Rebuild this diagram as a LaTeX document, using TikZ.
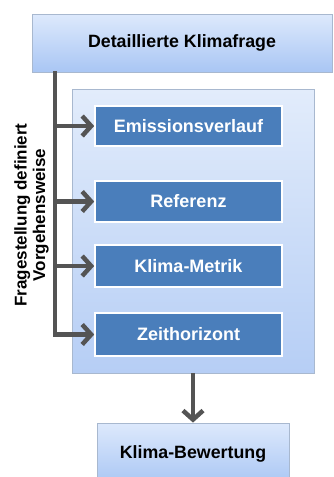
\documentclass[tikz,border=0pt]{standalone}
\usepackage{fontspec}
\setmainfont{Liberation Sans}
\usetikzlibrary{arrows.meta}
\definecolor{topA}{HTML}{DDE9FC}
\definecolor{topB}{HTML}{A9C6F4}
\definecolor{contA}{HTML}{E2ECFB}
\definecolor{contB}{HTML}{B6CEF5}
\definecolor{boxblue}{HTML}{4A7EBB}
\definecolor{edgegray}{HTML}{A8B8CF}
\definecolor{arrowgray}{HTML}{545454}
\tikzset{
  lightbox/.style={draw=edgegray, line width=0.8pt, top color=topA, bottom color=topB,
    font=\bfseries\fontsize{17.8}{21}\selectfont, text=black, inner sep=0pt},
  contbox/.style={draw=edgegray, line width=0.8pt, top color=contA, bottom color=contB, inner sep=0pt},
  stepbox/.style={draw=white, line width=1.6pt, fill=boxblue, text=white,
    font=\bfseries\fontsize{18}{21}\selectfont, minimum width=187pt, inner sep=0pt},
  conn/.style={draw=arrowgray, line width=4.5pt},
  tip/.style={-{Straight Barb[length=9pt,width=20pt,line width=4.5pt]}}
}
\begin{document}
\begin{tikzpicture}[x=1pt,y=-1pt]
\useasboundingbox (0,0) rectangle (333,477);
\node[lightbox, minimum width=300pt, minimum height=58pt] (top) at (182,43) {Detaillierte Klimafrage};
\node[contbox, minimum width=242pt, minimum height=284pt] (cont) at (193,231) {};
\node[stepbox, minimum height=40pt] (emi) at (188.5,126) {Emissionsverlauf};
\node[stepbox, minimum height=41pt] (ref) at (188.5,201.5) {Referenz};
\node[stepbox, minimum height=42pt] (met) at (188.5,266) {Klima-Metrik};
\node[stepbox, minimum height=43pt] (zeit) at (188.5,334.5) {Zeithorizont};
\node[lightbox, minimum width=192pt, minimum height=62pt] (bew) at (193,454) {Klima-Bewertung};
\node[rotate=90, align=center, font=\bfseries\fontsize{17}{18.5}\selectfont] (lab) at (31.5,215)
  {Fragestellung definiert\\Vorgehensweise};
\coordinate (trunk) at (55,71);
\draw[conn, tip] (trunk) |- (zeit.west);
\draw[conn, tip] (trunk |- emi.west) -- (emi.west);
\draw[conn, tip] (trunk |- ref.west) -- (ref.west);
\draw[conn, tip] (trunk |- met.west) -- (met.west);
\draw[conn, tip] (cont.south) -- (bew.north);
\end{tikzpicture}
\end{document}
